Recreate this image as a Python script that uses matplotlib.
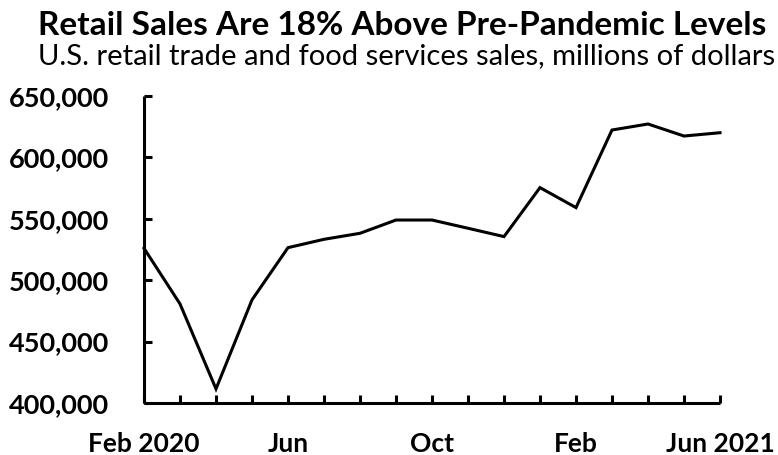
import matplotlib
matplotlib.use('Agg')
from matplotlib import pyplot as plt
from matplotlib.ticker import FuncFormatter

# monthly retail trade and food services sales, Feb 2020 - Jun 2021
months = ['Feb 2020', 'Mar', 'Apr', 'May', 'Jun', 'Jul', 'Aug', 'Sep', 'Oct',
          'Nov', 'Dec', 'Jan', 'Feb', 'Mar', 'Apr', 'May', 'Jun 2021']
sales = [526000, 480700, 411500, 484000, 526500, 533300, 538200, 549000,
         549000, 542300, 535500, 575400, 559100, 622300, 627200, 617400,
         620100]
tick_labels = ['Feb 2020', 'Jun', 'Oct', 'Feb', 'Jun 2021']
y_ticks = [400000, 450000, 500000, 550000, 600000, 650000]

FONT = 'Lato'
plt.rcParams['font.family'] = [FONT, 'DejaVu Sans']

fig = plt.figure(figsize=(7.78, 4.55), dpi=100)
ax = fig.add_axes([144 / 778, 1 - 403 / 455, (720 - 144) / 778, (403 - 96) / 455])

x = list(range(len(months)))
ax.plot(x, sales, color='black', lw=2.2, clip_on=False, solid_joinstyle='miter')

ax.set_xlim(0, len(months) - 1)
ax.set_ylim(y_ticks[0], y_ticks[-1])
ax.set_yticks(y_ticks)
ax.yaxis.set_major_formatter(FuncFormatter(lambda v, p: '{:,.0f}'.format(v)))
ax.set_xticks(x)
ax.set_xticklabels([m if m in tick_labels and (i % 4 == 0) else ''
                    for i, m in enumerate(months)])

for s in ['top', 'right']:
    ax.spines[s].set_visible(False)
for s in ['left', 'bottom']:
    ax.spines[s].set_linewidth(2.2)
    ax.spines[s].set_capstyle('butt')

ax.tick_params(axis='y', direction='in', length=6, width=2.2, pad=25,
               labelsize=19.5)
ax.tick_params(axis='x', direction='in', length=6, width=2.2, pad=21,
               labelsize=19)
for lab in ax.get_xticklabels() + ax.get_yticklabels():
    lab.set_fontweight('bold')

title = fig.text(38 / 778, 1 - 35 / 455, 'Retail Sales Are 18% Above Pre-Pandemic Levels',
                 fontsize=22, fontweight='bold', ha='left', va='baseline')
sub = fig.text(38 / 778, 1 - 64 / 455,
               'U.S. retail trade and food services sales, millions of dollars',
               fontsize=19, ha='left', va='baseline')

# scale header text to the widths seen in the reference
r = fig.canvas.get_renderer()
for t, w in [(title, 765 - 38), (sub, 775 - 38)]:
    cur = t.get_window_extent(r).width
    t.set_fontsize(t.get_fontsize() * w / cur)

fig.savefig('out.png', dpi=100)
